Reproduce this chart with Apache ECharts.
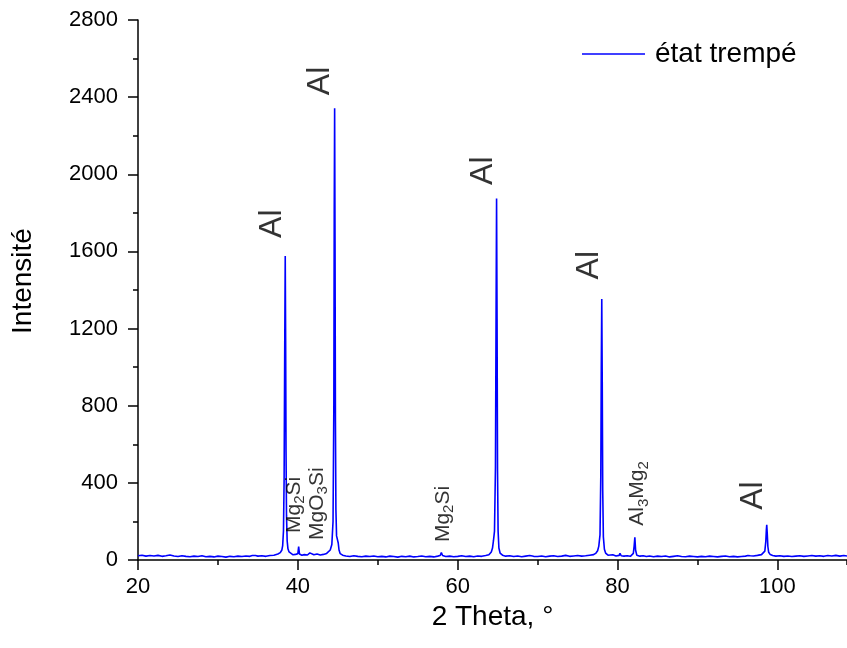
<!DOCTYPE html>
<html lang="fr">
<head>
    <meta charset="UTF-8">
    <title>DRX - état trempé</title>
    <script src="https://cdn.jsdelivr.net/npm/echarts@6/dist/echarts.min.js"></script>
    <style>
        html, body { margin: 0; padding: 0; background: #ffffff; }
        #chart { width: 847px; height: 648px; }
    </style>
</head>
<body>
    <div id="chart"></div>
    <script>
        // diffractogramme : [2 theta, intensite]
        var bg20to38 = [
            [20.0, 22], [20.5, 25], [21.0, 20], [21.5, 23], [22.0, 21], [22.5, 24], [23.0, 19], [23.5, 22],
            [24.0, 26], [24.5, 21], [25.0, 18], [25.5, 22], [26.0, 19], [26.5, 17], [27.0, 20], [27.5, 18],
            [28.0, 22], [28.5, 17], [29.0, 19], [29.5, 16], [30.0, 20], [30.5, 18], [31.0, 15], [31.5, 19],
            [32.0, 17], [32.5, 20], [33.0, 18], [33.5, 21], [34.0, 19], [34.3, 23], [34.5, 31], [34.7, 23],
            [35.0, 20], [35.5, 22], [36.0, 19], [36.5, 23], [37.0, 25], [37.5, 31]
        ];
        var peak38 = [
            [37.8, 38], [38.0, 52], [38.1, 75], [38.2, 150], [38.28, 420], [38.35, 1050], [38.42, 1576],
            [38.47, 1150], [38.52, 560], [38.58, 230], [38.66, 100], [38.76, 58], [38.9, 42], [39.1, 34]
        ];
        var bg39to44 = [
            [39.4, 27], [39.7, 29], [40.0, 33], [40.1, 70], [40.2, 31], [40.5, 25], [40.8, 28], [41.2, 26],
            [41.5, 37], [41.6, 44], [41.7, 34], [42.0, 27], [42.4, 31], [42.8, 26], [43.2, 29], [43.6, 34]
        ];
        var peak44 = [
            [43.85, 40], [44.05, 52], [44.25, 80], [44.4, 200], [44.5, 800], [44.55, 1800], [44.6, 2343],
            [44.65, 1650], [44.7, 720], [44.76, 260], [44.84, 125], [44.95, 106], [45.05, 88], [45.15, 52],
            [45.3, 33], [45.6, 25]
        ];
        var bg46to64 = [
            [46.0, 21], [46.5, 18], [47.0, 22], [47.5, 19], [48.0, 17], [48.5, 20], [49.0, 18], [49.5, 21],
            [50.0, 17], [50.5, 19], [51.0, 16], [51.5, 20], [52.0, 18], [52.5, 15], [53.0, 19], [53.5, 17],
            [54.0, 20], [54.5, 16], [55.0, 18], [55.5, 21], [56.0, 17], [56.5, 19], [57.0, 16], [57.5, 20],
            [57.8, 23], [57.95, 38], [58.1, 23], [58.5, 18], [59.0, 20], [59.5, 17], [60.0, 19], [60.5, 22],
            [61.0, 18], [61.5, 20], [62.0, 17], [62.5, 21], [63.0, 19], [63.5, 23], [63.9, 27]
        ];
        var peak65 = [
            [64.2, 42], [64.35, 62], [64.47, 100], [64.6, 150], [64.72, 480], [64.8, 1300], [64.86, 1875],
            [64.92, 1250], [64.98, 460], [65.05, 150], [65.15, 62], [65.3, 36], [65.6, 25]
        ];
        var bg66to77 = [
            [66.0, 20], [66.5, 22], [67.0, 18], [67.5, 21], [68.0, 17], [68.5, 20], [69.0, 23], [69.5, 19],
            [70.0, 18], [70.5, 21], [71.0, 17], [71.5, 20], [72.0, 22], [72.5, 18], [73.0, 20], [73.5, 24],
            [74.0, 19], [74.5, 21], [75.0, 23], [75.5, 20], [76.0, 22], [76.5, 25], [77.0, 28], [77.3, 36]
        ];
        var peak78 = [
            [77.5, 48], [77.65, 72], [77.8, 130], [77.9, 440], [77.96, 1000], [78.02, 1353], [78.08, 920],
            [78.14, 360], [78.22, 120], [78.35, 56], [78.5, 36], [78.8, 25]
        ];
        var bg79to82 = [
            [79.0, 23], [79.4, 27], [79.8, 21], [80.2, 24], [80.3, 35], [80.45, 22], [80.8, 20], [81.2, 22],
            [81.6, 19], [81.85, 26]
        ];
        var peak82 = [
            [81.97, 34], [82.07, 72], [82.16, 118], [82.25, 52], [82.4, 25]
        ];
        var bg83to98 = [
            [82.8, 20], [83.2, 22], [83.6, 18], [84.0, 21], [84.5, 17], [85.0, 20], [85.5, 18], [86.0, 21],
            [86.5, 16], [87.0, 19], [87.5, 22], [88.0, 18], [88.5, 17], [89.0, 20], [89.5, 18], [90.0, 16],
            [90.5, 19], [91.0, 17], [91.5, 20], [92.0, 18], [92.5, 16], [93.0, 19], [93.5, 21], [94.0, 17],
            [94.5, 19], [95.0, 16], [95.5, 18], [96.0, 20], [96.3, 23], [96.45, 33], [96.6, 22], [97.0, 21],
            [97.5, 24], [98.0, 28]
        ];
        var peak99 = [
            [98.25, 34], [98.42, 46], [98.54, 95], [98.61, 155], [98.66, 183], [98.72, 140], [98.8, 70],
            [98.9, 40], [99.1, 28], [99.4, 23]
        ];
        var bg99to109 = [
            [99.8, 20], [100.3, 22], [100.8, 19], [101.3, 21], [101.8, 18], [102.3, 20], [102.8, 22],
            [103.3, 19], [103.8, 21], [104.3, 23], [104.8, 20], [105.3, 22], [105.8, 19], [106.3, 23],
            [106.8, 21], [107.3, 24], [107.8, 20], [108.3, 23], [108.7, 21]
        ];

        // annotations des pics (point de depart du texte vertical)
        var labelTheta = [36.8, 42.8, 63.2, 76.5, 96.9, 39.55, 42.5, 58.2, 82.55];
        var labelInt = [1670, 2410, 1945, 1455, 260, 140, 104, 93, 178];
        var labelText = [
            '{big|Al}', '{big|Al}', '{big|Al}', '{big|Al}', '{big|Al}',
            '{m|Mg}{s|2}{m|Si}', '{m|MgO}{s|3}{m|Si}', '{m|Mg}{s|2}{m|Si}', '{m|Al}{s|3}{m|Mg}{s|2}'
        ];

        var xTicks = [20, 40, 60, 80, 100];
        var yTicks = [0, 400, 800, 1200, 1600, 2000, 2400, 2800];

        var pattern = [].concat(bg20to38, peak38, bg39to44, peak44, bg46to64, peak65,
            bg66to77, peak78, bg79to82, peak82, bg83to98, peak99, bg99to109);

        var labelData = labelTheta.map(function (t, i) {
            return [t, labelInt[i], labelText[i]];
        });

        var font = '"Liberation Sans", Arial, sans-serif';
        var chart = echarts.init(document.getElementById('chart'));

        chart.setOption({
            animation: false,
            backgroundColor: '#ffffff',
            textStyle: { fontFamily: font, color: '#000' },
            grid: { left: 138, right: 0, top: 20, bottom: 88, outerBoundsMode: 'none', containLabel: false },
            legend: {
                data: ['état trempé'],
                left: 577,
                top: 35,
                icon: 'rect',
                itemWidth: 63,
                itemHeight: 1.4,
                itemStyle: { color: '#0000ff' },
                textStyle: { fontFamily: font, fontSize: 28, color: '#000', padding: [0, 0, 0, 5] }
            },
            xAxis: [{
                type: 'value',
                position: 'bottom',
                min: xTicks[0],
                max: 108.7,
                interval: 20,
                name: '2 Theta, °',
                nameLocation: 'middle',
                nameGap: 29,
                nameTextStyle: { fontFamily: font, fontSize: 28, color: '#000' },
                axisLine: { show: true, lineStyle: { color: '#000', width: 1.5 } },
                axisTick: { show: true, length: 10, lineStyle: { color: '#000', width: 1.5 } },
                axisLabel: {
                    fontFamily: font, fontSize: 22, color: '#000', margin: 16, showMaxLabel: false,
                    formatter: function (v) { return String(v); }
                },
                splitLine: { show: false }
            }, {
                // petites graduations
                type: 'value',
                position: 'bottom',
                min: xTicks[0],
                max: 108.7,
                interval: 10,
                axisLine: { show: false },
                axisTick: { show: true, length: 5, lineStyle: { color: '#000', width: 1.5 } },
                axisLabel: { show: false },
                splitLine: { show: false }
            }],
            yAxis: {
                type: 'value',
                min: yTicks[0],
                max: yTicks[yTicks.length - 1],
                interval: 400,
                name: 'Intensité',
                nameLocation: 'middle',
                nameGap: 101,
                nameRotate: 90,
                nameTextStyle: { fontFamily: font, fontSize: 28, color: '#000', padding: [0, 0, 0, 18] },
                axisLine: { show: true, lineStyle: { color: '#000', width: 1.5 } },
                axisTick: { show: true, length: 10, lineStyle: { color: '#000', width: 1.5 } },
                minorTick: { show: true, splitNumber: 2, length: 5, lineStyle: { color: '#000', width: 1.5 } },
                axisLabel: {
                    fontFamily: font, fontSize: 22, color: '#000', margin: 20,
                    formatter: function (v) { return String(v); }
                },
                splitLine: { show: false }
            },
            series: [{
                name: 'état trempé',
                type: 'line',
                data: pattern,
                symbol: 'none',
                lineStyle: { color: '#0000ff', width: 1.6 },
                itemStyle: { color: '#0000ff' },
                z: 3
            }, {
                name: 'annotations',
                type: 'scatter',
                data: labelData,
                symbolSize: 0,
                silent: true,
                label: {
                    show: true,
                    position: [0, 0],
                    rotate: 90,
                    align: 'left',
                    verticalAlign: 'middle',
                    color: '#000',
                    formatter: function (p) { return p.data[2]; },
                    rich: {
                        big: { fontFamily: font, fontSize: 32, color: '#000' },
                        m: { fontFamily: font, fontSize: 21, color: '#000', lineHeight: 22, verticalAlign: 'top' },
                        s: { fontFamily: font, fontSize: 15, color: '#000', lineHeight: 15, padding: [9, 0, 0, 0], verticalAlign: 'top' }
                    }
                },
                z: 4
            }]
        });
    </script>
</body>
</html>
